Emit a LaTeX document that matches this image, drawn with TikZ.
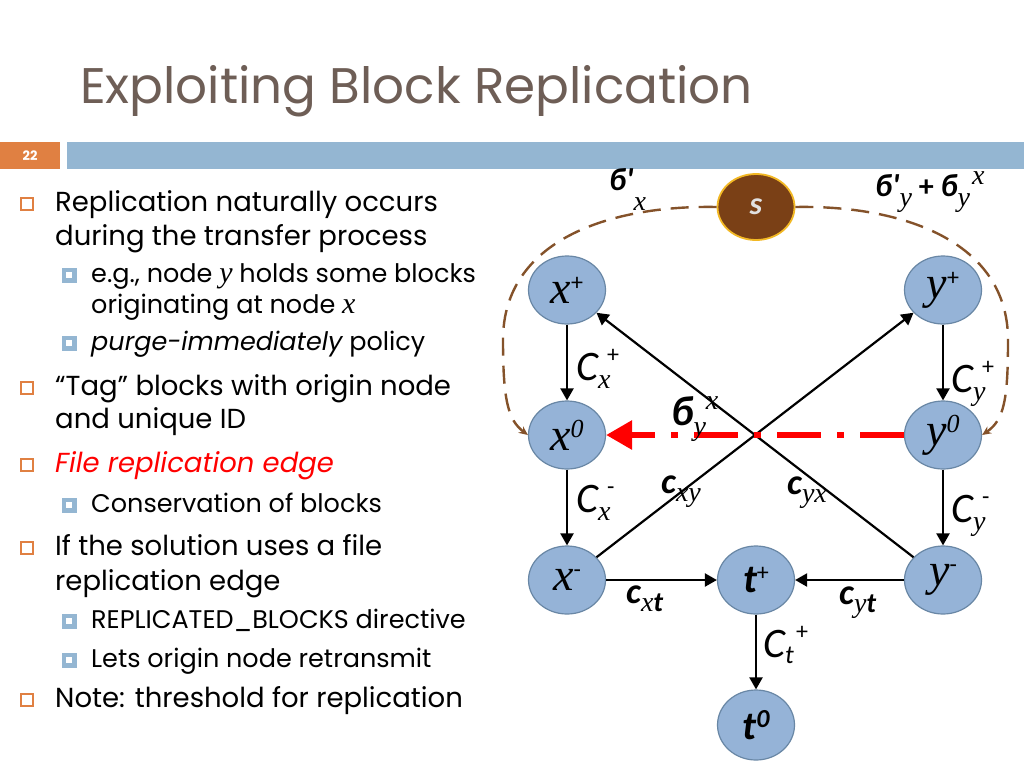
\documentclass[tikz,border=0pt]{standalone}
\usepackage{fontspec}
\setmainfont{Poppins}
\newfontfamily\dgf{Carlito}
\newfontfamily\vf{Liberation Serif}
\usetikzlibrary{arrows.meta,shapes.geometric}
\definecolor{titlec}{RGB}{110,94,86}
\definecolor{orng}{RGB}{224,128,66}
\definecolor{barblue}{RGB}{148,182,210}
\definecolor{nodefill}{RGB}{149,179,215}
\definecolor{nodeline}{RGB}{105,135,165}
\definecolor{sfill}{RGB}{122,64,22}
\definecolor{sline}{RGB}{242,184,36}
\definecolor{brn}{RGB}{132,82,42}
\newcommand\fs[1]{\fontsize{#1}{#1}\selectfont}
\newcommand\Cf{\dgf\itshape\fs{42}}
\newcommand\cf{\dgf\bfseries\itshape\fs{36}}
\newcommand\vsub{\vf\itshape\fs{28}}
\newcommand\psup{\dgf\fs{24}}
\newcommand\nv{\vf\itshape\fs{46}}
\begin{document}
\begin{tikzpicture}[x=1pt,y=-1pt,
  mt/.style={anchor=base west, inner sep=0, font=\fs{27.5}},
  st/.style={anchor=base west, inner sep=0, font=\fs{25.5}},
  mbul/.style={rectangle, draw=orng, line width=1.3pt, minimum size=12pt, inner sep=0},
  sbul/.style={rectangle, draw=barblue, fill=white, line width=4.5pt, minimum size=10.5pt, inner sep=0},
  nd/.style={ellipse, draw=nodeline, fill=nodefill, line width=1.2pt, minimum width=77pt, minimum height=68pt, inner sep=0},
  ar/.style={-{Triangle[length=12pt,width=13pt]}, line width=2.2pt, black},
  lb/.style={anchor=base west, inner sep=0},
  bdash/.style={brn, line width=2.4pt, dash pattern=on 18pt off 10pt, -{Stealth[length=9pt,width=8pt]}}
]
\useasboundingbox (0,0) rectangle (1024,768);
\fill[white] (0,0) rectangle (1024,768);
% header
\node[anchor=base west, inner sep=0, text=titlec, font=\fs{50}] (title) at (80,103) {Exploiting Block Replication};
\fill[orng] (0,142) rectangle (60,169);
\node[text=white, font=\fs{13}\bfseries] (num) at (30,155.5) {22};
\fill[barblue] (67,142) rectangle (1024,169);
% bullets
\node[mbul] (b1) at (27,204) {};
\node[mbul] (b2) at (27,388) {};
\node[mbul] (b3) at (27,465) {};
\node[mbul] (b4) at (27,548) {};
\node[mbul] (b5) at (27,700) {};
\node[sbul] (s1) at (69,275) {};
\node[sbul] (s2) at (69,343) {};
\node[sbul] (s3) at (69,505) {};
\node[sbul] (s4) at (69,621) {};
\node[sbul] (s5) at (69,660) {};
% text
\node[mt] (l1) at (55,211) {Replication naturally occurs};
\node[mt] (l2) at (55,245) {during the transfer process};
\node[st] (l3) at (91,282) {e.g., node {\vf\itshape\fs{30}y} holds some blocks};
\node[st] (l4) at (91,313) {originating at node {\vf\itshape\fs{30}x}};
\node[st] (l5) at (91,350) {{\itshape purge-immediately} policy};
\node[mt] (l6) at (55,395) {“Tag” blocks with origin node};
\node[mt] (l7) at (55,428) {and unique ID};
\node[mt, text=red] (l8) at (55,472) {\itshape File replication edge};
\node[st] (l9) at (91,512) {Conservation of blocks};
\node[mt] (l10) at (55,555) {If the solution uses a file};
\node[mt] (l11) at (55,590) {replication edge};
\node[st] (l12) at (91,628) {REPLICATED\_BLOCKS directive};
\node[st] (l13) at (91,667) {Lets origin node retransmit};
\node[mt] (l14) at (55,707) {Note: threshold for replication};
% diagram nodes
\node[ellipse, draw=sline, fill=sfill, line width=1.8pt, minimum width=77pt, minimum height=66pt, inner sep=0, text={rgb,255:red,225;green,225;blue,225}, font=\dgf\bfseries\itshape\fs{32}] (s) at (756,207) {s};
\node[nd] (xp) at (567,290) {{\nv x}\raisebox{13pt}{\psup +}};
\node[nd] (x0) at (567,435) {{\nv x}\raisebox{13pt}{\vf\itshape\fs{26}0}};
\node[nd] (xm) at (567,580) {{\nv x}\raisebox{13pt}{\psup -}};
\node[nd] (yp) at (943,290) {{\nv y}\raisebox{13pt}{\psup +}};
\node[nd] (y0) at (943,435) {{\nv y}\raisebox{13pt}{\vf\itshape\fs{26}0}};
\node[nd] (ym) at (943,580) {{\nv y}\raisebox{13pt}{\psup -}};
\node[nd] (tp) at (756,580) {{\dgf\bfseries\itshape\fs{40}t}\raisebox{12pt}{\psup +}};
\node[nd, minimum height=70pt] (t0) at (756,725) {{\dgf\bfseries\itshape\fs{40}t}\raisebox{12pt}{\dgf\bfseries\itshape\fs{26}0}};
% brown dashed curves
\draw[bdash] (s.west) .. controls (610,205) and (503,240) .. (503,340) .. controls (503,400) and (508,420) .. (x0.west);
\draw[bdash] (s.east) .. controls (900,205) and (1008,240) .. (1008,340) .. controls (1008,400) and (1004,420) .. (y0.east);
% black edges
\draw[ar] (xp) -- (x0);
\draw[ar] (x0) -- (xm);
\draw[ar] (yp) -- (y0);
\draw[ar] (y0) -- (ym);
\draw[ar] (xm) -- (yp);
\draw[ar] (ym) -- (xp);
\draw[ar] (xm) -- (tp);
\draw[ar] (ym) -- (tp);
\draw[ar] (tp) -- (t0);
% red replication edge
\draw[red, line width=6pt, dash pattern=on 44pt off 16pt on 7pt off 16pt, -{Triangle[length=26pt,width=28pt]}] (y0) -- (x0);
% labels
\node[lb] (lCxp) at (576,380) {{\Cf C}\rlap{\raisebox{-8pt}{\vsub x}}\raisebox{18pt}{\hspace{9pt}\psup +}};
\node[lb] (lCxm) at (576,512) {{\Cf C}\rlap{\raisebox{-8pt}{\vsub x}}\raisebox{18pt}{\hspace{9pt}\psup -}};
\node[lb] (lCyp) at (951,392) {{\Cf C}\rlap{\raisebox{-8pt}{\vsub y}}\raisebox{18pt}{\hspace{9pt}\psup +}};
\node[lb] (lCym) at (951,522) {{\Cf C}\rlap{\raisebox{-8pt}{\vsub y}}\raisebox{18pt}{\hspace{9pt}\psup -}};
\node[lb] (lCtp) at (763,657) {{\Cf C}\rlap{\raisebox{-6pt}{\dgf\itshape\fs{26}t}}\raisebox{18pt}{\hspace{11pt}\psup +}};
\node[lb] (lcxy) at (661,493) {{\cf c}\raisebox{-8pt}{\vsub xy}};
\node[lb] (lcyx) at (787,494) {{\cf c}\raisebox{-8pt}{\vsub yx}};
\node[lb] (lcxt) at (626,603) {{\cf c}\raisebox{-8pt}{\vsub x{\dgf\bfseries\itshape t}}};
\node[lb] (lcyt) at (839,604) {{\cf c}\raisebox{-8pt}{\vsub y{\dgf\bfseries\itshape t}}};
\node[lb] (lbyx) at (671,425) {{\dgf\bfseries\itshape\fs{42}б}\raisebox{-10pt}{\vsub y}\raisebox{16pt}{\vsub x}};
\node[lb] (lbx) at (609,190) {{\dgf\bfseries\itshape\fs{32}б'}\raisebox{-20pt}{\vsub x}};
\node[lb] (lby) at (875,196) {{\dgf\bfseries\itshape\fs{32}б'}\raisebox{-10pt}{\vsub y}{\dgf\bfseries\fs{30} + }{\dgf\bfseries\itshape\fs{32}б}\raisebox{-10pt}{\vsub y}\raisebox{12pt}{\vsub\hspace{2pt}x}};
\end{tikzpicture}
\end{document}
